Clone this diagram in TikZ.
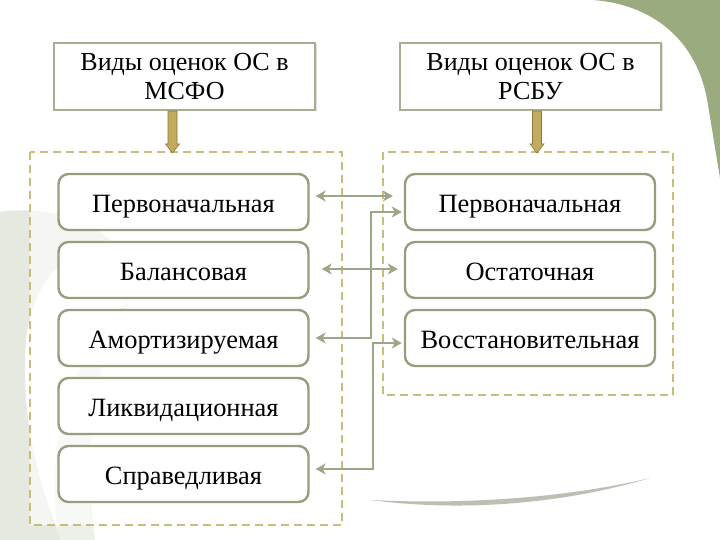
\documentclass[tikz,border=0pt]{standalone}
\usepackage{fontspec}
\setmainfont{Liberation Serif}
\usetikzlibrary{arrows.meta,calc,shadows}
\definecolor{boxline}{HTML}{9A9C80}
\definecolor{headline}{HTML}{ABAC92}
\definecolor{connc}{HTML}{9EA68A}
\definecolor{dashc}{HTML}{C8BE7C}
\definecolor{goldf}{HTML}{C2AB5E}
\definecolor{goldd}{HTML}{8A7A3E}
\definecolor{greenc}{HTML}{9AAB80}
\definecolor{swirl}{HTML}{E6E9E0}
\definecolor{swirlb}{HTML}{BCC0B2}
\begin{document}
\begin{tikzpicture}[x=1pt,y=-1pt,
  header/.style={draw=headline, line width=2pt, fill=white, minimum width=261pt, minimum height=67pt,
    align=center, font=\fontsize{26}{29}\selectfont, inner sep=0pt,
    drop shadow={shadow xshift=1.5pt, shadow yshift=-1.5pt, opacity=0.25}},
  item/.style={draw=boxline, line width=2.4pt, fill=white, rounded corners=10pt, minimum width=250pt,
    minimum height=56pt, font=\fontsize{26.4}{30}\selectfont, inner sep=0pt, text height=21pt, text depth=1pt},
  group/.style={draw=dashc, line width=1.5pt, dash pattern=on 8pt off 5pt, fill=white, fill opacity=0.6},
  tipc/.tip={Stealth[length=10pt,width=11pt,inset=3pt]},
  conn/.style={draw=connc, line width=2.2pt, tipc-tipc},
  blockarrow/.style={fill=goldf, draw=goldd, line width=0.6pt},
]
\useasboundingbox (0,0) rectangle (720,540);
\fill[white] (0,0) rectangle (720,540);
% background decoration
\fill[greenc] (593,0) .. controls (650,4) and (698,38) .. (708,105) .. controls (713,135) and (717,160) .. (720,178) -- (720,0) -- cycle;
\fill[swirl] (0,212) .. controls (50,205) and (95,222) .. (115,245) .. controls (70,238) and (32,282) .. (26,340)
  .. controls (20,420) and (40,490) .. (62,540) -- (0,540) -- cycle;
\fill[swirl!70] (60,540) .. controls (45,470) and (60,360) .. (130,300) .. controls (90,360) and (85,460) .. (95,540) -- cycle;
\fill[swirlb] (370,500) .. controls (470,513) and (570,502) .. (650,478) .. controls (570,497) and (470,505) .. (370,500) -- cycle;

% groups
\draw[group] (30,152) rectangle (342,525);
\draw[group] (383,152) rectangle (673,395);

% headers
\node[header] (H1) at (184.5,76.5) {Виды оценок ОС в\\МСФО};
\node[header] (H2) at (530.5,76.5) {Виды оценок ОС в\\РСБУ};

% items left
\node[item] (L1) at (183.5,202) {Первоначальная};
\node[item] (L2) at (183.5,270) {Балансовая};
\node[item] (L3) at (183.5,338) {Амортизируемая};
\node[item] (L4) at (183.5,406) {Ликвидационная};
\node[item] (L5) at (183.5,474) {Справедливая};
% items right
\node[item] (R1) at (530,202) {Первоначальная};
\node[item] (R2) at (530,270) {Остаточная};
\node[item] (R3) at (530,338) {Восстановительная};

% block arrows
\draw[blockarrow] ($(H1.south)+(-12,0)$) ++(-4.5,0) -- ++(9,0) -- ++(0,33) -- ++(2.5,0) -- ++(-7,9) -- ++(-7,-9) -- ++(2.5,0) -- cycle;
\draw[blockarrow] ($(H2.south)+(6.5,0)$) ++(-4.5,0) -- ++(9,0) -- ++(0,33) -- ++(2.5,0) -- ++(-7,9) -- ++(-7,-9) -- ++(2.5,0) -- cycle;

% connectors
\draw[conn] ($(L1.east)+(6,-6)$) -- ($(R1.west)+(-11,-6)$);
\draw[conn] ($(L2.east)+(12,-1)$) -- ($(R2.west)+(-6,-1)$);
\draw[conn] ($(L3.east)+(6,0)$) -- ++(55,0) |- ($(R1.west)+(-2,10)$);
\draw[conn] ($(L5.east)+(6,-5)$) -- ++(57,0) |- ($(R3.west)+(-2,5)$);
\end{tikzpicture}
\end{document}
